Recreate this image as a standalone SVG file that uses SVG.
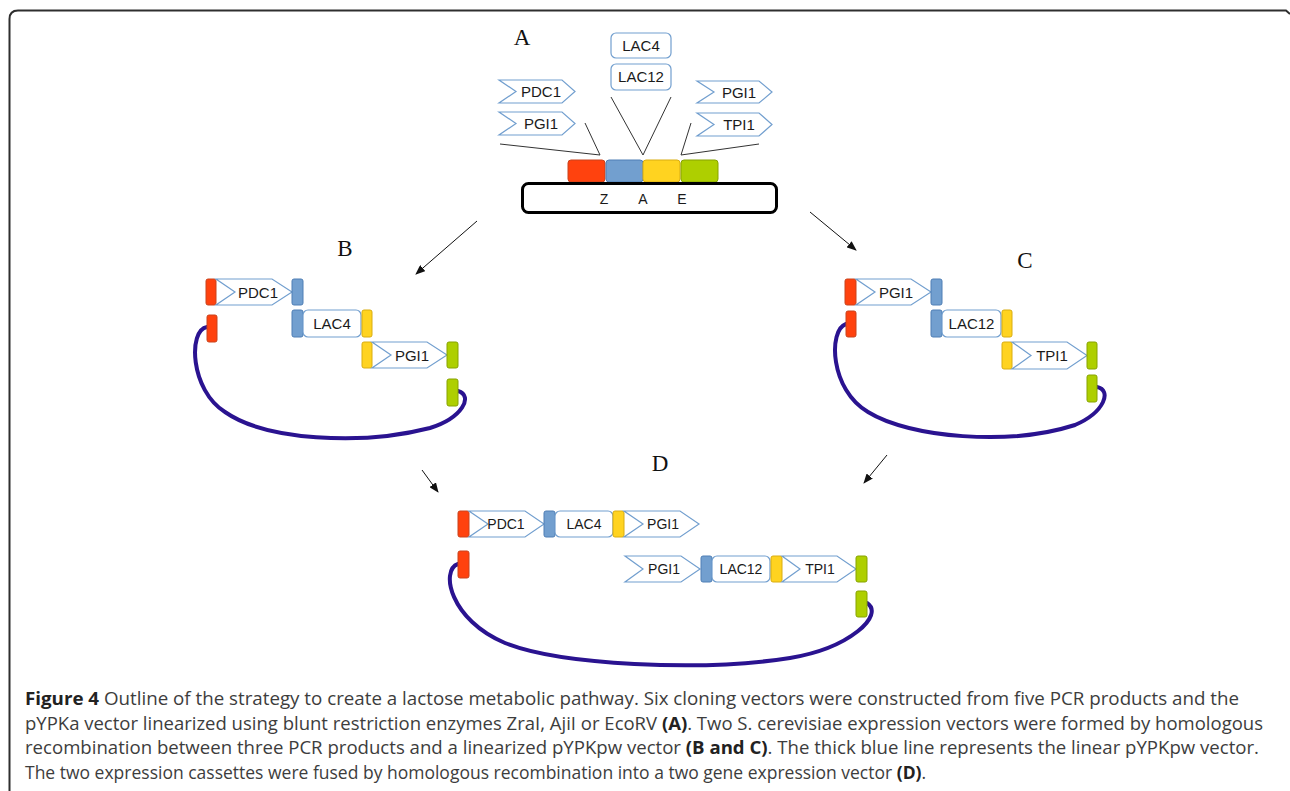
<svg xmlns="http://www.w3.org/2000/svg" width="1290" height="791" viewBox="0 0 1290 791">
<style>
.chev{fill:#fff;stroke:#729fcf;stroke-width:1.2}
.lac{fill:#fff;stroke:#729fcf;stroke-width:1.2}
.r{fill:#ff420e;stroke:#c9421c;stroke-width:1}
.b{fill:#729fcf;stroke:#4f7eb5;stroke-width:1}
.y{fill:#ffd320;stroke:#d9ad10;stroke-width:1}
.g{fill:#aecf00;stroke:#87a300;stroke-width:1}
.lbl{font-family:"Liberation Sans",Arial,sans-serif;font-size:15px;fill:#1a1a1a;text-anchor:middle}
.lbld{font-family:"Liberation Sans",Arial,sans-serif;font-size:14px;fill:#1a1a1a;text-anchor:middle}
.zae{font-family:"Liberation Sans",Arial,sans-serif;font-size:14px;fill:#1a1a1a;text-anchor:middle}
.big{font-family:"Liberation Serif","Times New Roman",serif;font-size:23px;fill:#111;text-anchor:middle}
.lead{stroke:#333;stroke-width:1;fill:none}
.arr{stroke:#111;stroke-width:1;fill:none;marker-end:url(#ah)}
.vec{stroke:#2a1390;stroke-width:4;fill:none;stroke-linecap:round}
.cap{font-family:"Open Sans","Noto Sans",sans-serif;font-size:17.5px;fill:#3d3d3d}
.cb{font-weight:bold;fill:#222}
</style>
<defs>
<marker id="ah" markerWidth="10" markerHeight="8" refX="9" refY="4" orient="auto" markerUnits="userSpaceOnUse">
<path d="M0,0 L10,4 L0,8 z" fill="#111"/>
</marker>
</defs>
<rect width="1290" height="791" fill="#fff"/>
<path d="M9.5,791 L9.5,19 Q9.5,10.5 18,10.5 L1286,10.5 L1290,14" fill="none" stroke="#2e2e2e" stroke-width="2"/>

<g id="connectors">
<path class="lead" d="M500,144 L600,155 M585,123 L600,155"/>
<path class="lead" d="M611,97 L643,155 M671,97 L643,155"/>
<path class="lead" d="M691,123 L681,155 M759,144 L681,155"/>
<line class="arr" x1="477" y1="221" x2="416" y2="274"/>
<line class="arr" x1="810" y1="212" x2="856" y2="250"/>
<line class="arr" x1="422" y1="470" x2="438" y2="492"/>
<line class="arr" x1="887" y1="455" x2="864" y2="483"/>
<path class="vec" d="M207,327 C188,330 190,390 225,412 C265,440 360,446 430,428 C462,418 474,396 458,391"/>
<path class="vec" d="M846,324 C828,330 830,390 868,412 C910,438 1010,446 1075,425 C1105,412 1112,390 1097,387"/>
<path class="vec" d="M458,564 C440,570 450,620 505,643 C560,665 700,672 790,658 C850,648 885,615 867,603"/>
</g>

<g id="nodeA">
<text class="big" x="522" y="45">A</text>
<rect class="lac" x="611" y="33" width="60" height="25" rx="5"/>
<text class="lbl" x="641" y="50.5">LAC4</text>
<rect class="lac" x="611" y="64" width="60" height="26" rx="5"/>
<text class="lbl" x="641" y="82">LAC12</text>
<polygon class="chev" points="499,80 562,80 575,91.5 562,103 499,103 516,91.5"/>
<text class="lbl" x="541" y="97">PDC1</text>
<polygon class="chev" points="499,112 562,112 575,123.5 562,135 499,135 516,123.5"/>
<text class="lbl" x="541" y="129">PGI1</text>
<polygon class="chev" points="697,81 759,81 772,92 759,103 697,103 714,92"/>
<text class="lbl" x="739" y="97.5">PGI1</text>
<polygon class="chev" points="697,113 759,113 772,124.5 759,136 697,136 714,124.5"/>
<text class="lbl" x="739" y="130">TPI1</text>
<rect class="r" x="568" y="160" width="37" height="22" rx="3"/>
<rect class="b" x="606" y="160" width="37" height="22" rx="3"/>
<rect class="y" x="643" y="160" width="37" height="22" rx="3"/>
<rect class="g" x="681" y="160" width="37" height="22" rx="3"/>
<rect x="522.5" y="183.5" width="254" height="29" rx="6" fill="#fff" stroke="#000" stroke-width="3"/>
<text class="zae" x="604" y="204">Z</text>
<text class="zae" x="643" y="204">A</text>
<text class="zae" x="682" y="204">E</text>
</g>

<g id="nodeB">
<text class="big" x="345" y="256">B</text>
<rect class="r" x="206" y="279" width="10" height="26" rx="2"/>
<polygon class="chev" points="216,279 272,279 292,292 272,305 216,305 235,292"/>
<text class="lbl" x="258" y="297.5">PDC1</text>
<rect class="b" x="292" y="279" width="11" height="26" rx="2"/>
<rect class="b" x="292" y="310" width="11" height="27" rx="2"/>
<rect class="lac" x="303" y="310" width="58" height="27" rx="5"/>
<text class="lbl" x="332" y="329">LAC4</text>
<rect class="y" x="362" y="310" width="10" height="27" rx="2"/>
<rect class="y" x="362" y="342" width="10" height="26" rx="2"/>
<polygon class="chev" points="372,342 427,342 447,355 427,368 372,368 391,355"/>
<text class="lbl" x="412" y="360.5">PGI1</text>
<rect class="g" x="447" y="342" width="11" height="26" rx="2"/>
<rect class="g" x="447" y="379" width="11" height="27" rx="2"/>
<rect class="r" x="207" y="315" width="10" height="27" rx="2"/>
</g>

<g id="nodeC">
<text class="big" x="1025" y="268">C</text>
<rect class="r" x="845" y="279" width="11" height="26" rx="2"/>
<polygon class="chev" points="856,279 911,279 931,292 911,305 856,305 875,292"/>
<text class="lbl" x="896" y="297.5">PGI1</text>
<rect class="b" x="931" y="279" width="11" height="26" rx="2"/>
<rect class="b" x="931" y="310" width="11" height="27" rx="2"/>
<rect class="lac" x="942" y="310" width="59" height="27" rx="5"/>
<text class="lbl" x="971.5" y="329">LAC12</text>
<rect class="y" x="1002" y="310" width="10" height="27" rx="2"/>
<rect class="y" x="1002" y="342" width="10" height="27" rx="2"/>
<polygon class="chev" points="1012,342 1067,342 1087,355.5 1067,369 1012,369 1031,355.5"/>
<text class="lbl" x="1052" y="361">TPI1</text>
<rect class="g" x="1087" y="342" width="10" height="27" rx="2"/>
<rect class="g" x="1087" y="375" width="10" height="27" rx="2"/>
<rect class="r" x="846" y="311" width="10" height="26" rx="2"/>
</g>

<g id="nodeD">
<text class="big" x="660" y="471">D</text>
<rect class="r" x="458" y="511" width="11" height="26" rx="2"/>
<polygon class="chev" points="469,511 525,511 544,524 525,537 469,537 488,524"/>
<text class="lbld" x="506" y="529">PDC1</text>
<rect class="b" x="544" y="511" width="11" height="26" rx="2"/>
<rect class="lac" x="555" y="511" width="58" height="26" rx="5"/>
<text class="lbld" x="584" y="529">LAC4</text>
<rect class="y" x="613" y="511" width="11" height="26" rx="2"/>
<polygon class="chev" points="624,511 680,511 699,524 680,537 624,537 643,524"/>
<text class="lbld" x="663" y="529">PGI1</text>
<polygon class="chev" points="625,556 681,556 700,569 681,582 625,582 643,569"/>
<text class="lbld" x="664" y="574">PGI1</text>
<rect class="b" x="701" y="556" width="11" height="26" rx="2"/>
<rect class="lac" x="712" y="556" width="58" height="26" rx="5"/>
<text class="lbld" x="741" y="574">LAC12</text>
<rect class="y" x="771" y="556" width="11" height="26" rx="2"/>
<polygon class="chev" points="782,556 837,556 856,569 837,582 782,582 800,569"/>
<text class="lbld" x="820" y="574">TPI1</text>
<rect class="g" x="856" y="556" width="11" height="26" rx="2"/>
<rect class="r" x="458" y="551" width="11" height="27" rx="2"/>
<rect class="g" x="856" y="591" width="11" height="26" rx="2"/>
</g>

<g id="caption">
<text class="cap" x="25" y="705" textLength="1214" lengthAdjust="spacingAndGlyphs"><tspan class="cb">Figure 4</tspan> Outline of the strategy to create a lactose metabolic pathway. Six cloning vectors were constructed from five PCR products and the</text>
<text class="cap" x="25" y="729.5" textLength="1238" lengthAdjust="spacingAndGlyphs">pYPKa vector linearized using blunt restriction enzymes ZraI, AjiI or EcoRV <tspan class="cb">(A)</tspan>. Two S. cerevisiae expression vectors were formed by homologous</text>
<text class="cap" x="25" y="754" textLength="1234" lengthAdjust="spacingAndGlyphs">recombination between three PCR products and a linearized pYPKpw vector <tspan class="cb">(B and C)</tspan>. The thick blue line represents the linear pYPKpw vector.</text>
<text class="cap" x="25" y="778.5">The two expression cassettes were fused by homologous recombination into a two gene expression vector <tspan class="cb">(D)</tspan>.</text>
</g>
</svg>
